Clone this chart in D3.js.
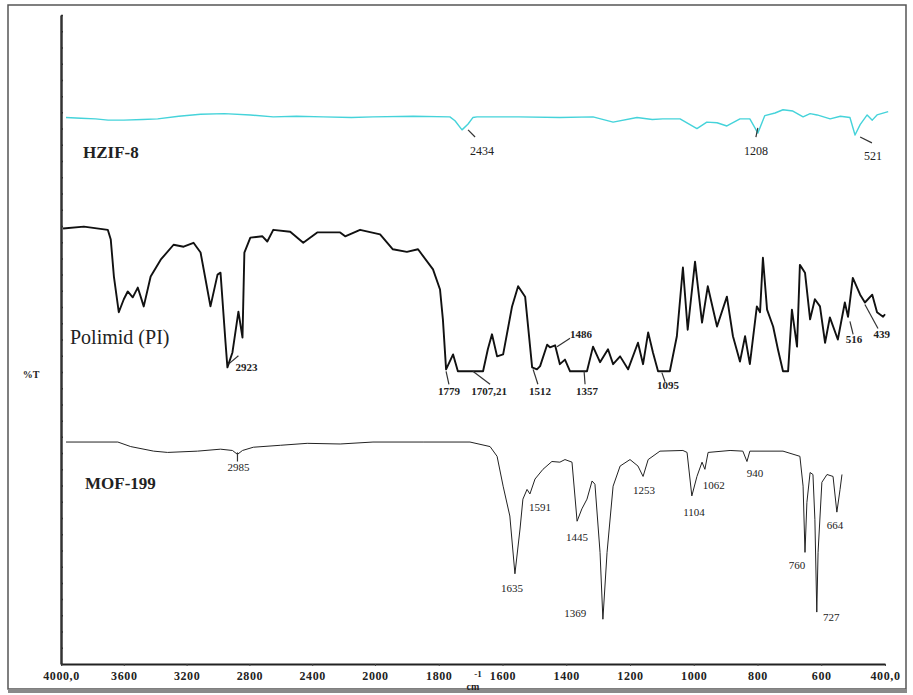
<!DOCTYPE html>
<html>
<head>
<meta charset="utf-8">
<script src="https://cdn.jsdelivr.net/npm/d3@7/dist/d3.min.js"></script>
<style>
  body { margin: 0; background: #fff; }
  svg text { font-family: "Liberation Serif", "Times New Roman", serif; fill: #222; }
</style>
</head>
<body>
<script>
var width = 913,
    height = 695;

// x tick labels (wavenumber, cm-1)
var xTicks = [4000, 3600, 3200, 2800, 2400, 2000, 1800, 1600, 1400, 1200, 1000, 800, 600, 400];

// HZIF-8 spectrum [wavenumber, %T offset]
var hzifWn = [3968, 3873, 3780, 3700, 3600, 3480, 3384, 3250, 3111, 2960, 2794, 2648, 2500, 2330, 2150, 2013, 1880, 1765, 1749, 1727, 1708, 1693, 1680, 1550, 1420, 1316, 1253, 1178, 1130, 1097, 1043, 990, 959, 927, 896, 855, 824, 808, 799, 777, 745, 720, 689, 657, 635, 613, 572, 540, 510, 494, 478, 456, 440, 425, 390];
var hzifT  = [84.2, 84.1, 84.0, 83.8, 83.8, 83.9, 84.0, 84.4, 84.7, 84.8, 84.6, 84.3, 84.4, 84.3, 84.2, 84.3, 84.4, 84.3, 83.7, 82.3, 83.2, 84.2, 84.3, 84.3, 84.2, 84.3, 83.5, 84.2, 83.9, 84.0, 84.0, 82.5, 83.5, 83.4, 82.9, 84.0, 84.0, 82.6, 81.8, 84.5, 84.9, 85.4, 85.2, 84.3, 84.8, 84.6, 84.0, 84.4, 84.2, 81.5, 83.1, 84.6, 83.8, 84.6, 85.1];

// Polimid (PI) spectrum
var piWn = [3987, 3854, 3702, 3683, 3663, 3632, 3600, 3575, 3543, 3511, 3473, 3429, 3365, 3283, 3219, 3156, 3111, 3079, 3048, 3003, 2984, 2952, 2940, 2908, 2870, 2844, 2832, 2794, 2717, 2686, 2648, 2540, 2457, 2368, 2222, 2190, 2095, 1984, 1944, 1900, 1865, 1818, 1796, 1787, 1777, 1755, 1740, 1661, 1646, 1633, 1617, 1598, 1570, 1551, 1529, 1507, 1492, 1482, 1460, 1451, 1435, 1420, 1404, 1388, 1335, 1316, 1294, 1269, 1253, 1231, 1206, 1175, 1159, 1143, 1128, 1112, 1075, 1053, 1034, 1019, 996, 974, 956, 927, 896, 877, 855, 839, 824, 802, 792, 783, 770, 751, 736, 720, 704, 692, 676, 667, 651, 635, 620, 604, 588, 573, 548, 526, 516, 501, 478, 463, 440, 425, 406, 400];
var piT  = [67.1, 67.4, 66.9, 65.4, 59.7, 54.2, 56.2, 57.4, 56.5, 58.0, 55.1, 59.7, 62.3, 64.6, 64.3, 64.9, 63.4, 59.2, 55.1, 60.0, 60.3, 49.5, 45.7, 48.0, 54.3, 50.3, 63.4, 65.7, 65.9, 65.1, 66.9, 66.6, 64.9, 66.5, 66.5, 65.9, 66.9, 66.2, 63.9, 63.5, 63.9, 60.8, 57.7, 53.1, 45.4, 47.7, 45.1, 45.1, 48.5, 50.8, 47.4, 47.7, 55.1, 58.2, 56.6, 45.7, 45.4, 45.9, 49.2, 48.8, 49.1, 46.2, 46.9, 45.1, 45.1, 48.9, 46.5, 48.5, 46.2, 47.4, 45.4, 49.5, 46.2, 51.1, 48.0, 45.1, 45.1, 50.5, 61.1, 51.5, 62.0, 52.6, 58.2, 52.0, 56.6, 50.5, 46.6, 50.5, 46.2, 55.1, 54.2, 62.6, 54.6, 52.0, 48.5, 45.1, 45.1, 54.6, 48.9, 61.5, 60.3, 53.1, 56.2, 55.1, 49.5, 53.4, 50.0, 55.7, 53.5, 59.5, 56.9, 55.7, 56.9, 54.2, 53.5, 53.9];

// MOF-199 spectrum
var mofWn = [3968, 3638, 3556, 3410, 3321, 3130, 2984, 2908, 2876, 2844, 2775, 2603, 2432, 2222, 2013, 1849, 1702, 1639, 1617, 1598, 1577, 1561, 1545, 1536, 1523, 1514, 1498, 1473, 1445, 1420, 1404, 1382, 1366, 1351, 1335, 1319, 1310, 1294, 1285, 1272, 1253, 1231, 1200, 1175, 1159, 1143, 1106, 1034, 1021, 1006, 990, 974, 965, 955, 886, 846, 833, 824, 720, 667, 657, 651, 645, 635, 626, 620, 614, 610, 598, 582, 563, 551, 541, 535];
var mofT  = [34.2, 34.2, 33.5, 32.8, 32.6, 32.8, 33.1, 32.9, 32.3, 32.9, 33.4, 33.7, 34.0, 33.9, 34.2, 34.2, 34.2, 33.5, 32.0, 27.4, 22.8, 13.9, 20.8, 25.4, 26.9, 26.2, 28.5, 30.0, 31.2, 31.1, 31.5, 31.1, 22.0, 23.9, 25.4, 28.2, 27.7, 17.2, 6.9, 17.2, 27.4, 30.5, 31.5, 30.5, 28.9, 31.5, 32.8, 32.9, 32.6, 25.9, 28.9, 31.1, 30.0, 32.6, 32.9, 32.8, 31.2, 32.8, 32.8, 32.0, 27.4, 17.2, 24.9, 29.5, 29.2, 22.3, 8.0, 17.2, 28.0, 29.2, 28.9, 23.4, 26.9, 29.2];

// peak labels: text, wavenumber, %T (baseline)
var hzifPeaks = [["2434", 1664, 78.5], ["1208", 805, 78.5], ["521", 438, 77.7]];
var piPeaks = [["2923", 2819, 45.1], ["1779", 1768, 41.5], ["1707,21", 1642, 41.5], ["1512", 1482, 41.5],
               ["1486", 1354, 50.3], ["1357", 1335, 41.5], ["1095", 1081, 42.3], ["516", 497, 49.5], ["439", 410, 50.3]];
var mofPeaks = [["2985", 2870, 29.7], ["1635", 1570, 11.1], ["1591", 1482, 23.5], ["1445", 1366, 18.9],
                ["1369", 1372, 7.2], ["1253", 1156, 26.2], ["1104", 999, 22.8], ["1062", 937, 26.9],
                ["940", 808, 28.8], ["760", 676, 14.6], ["727", 569, 6.6], ["664", 557, 20.8]];

// leader lines: wn1, T1, wn2, T2
var leaders = [[1708, 82.3, 1686, 81.2], [799, 82.6, 805, 81.2], [478, 81.2, 441, 80.3],
               [2933, 46.2, 2870, 47.5], [1777, 45.1, 1768, 43.1], [1693, 45.1, 1639, 43.1],
               [1504, 45.4, 1489, 43.1], [1344, 45.1, 1341, 43.1], [1429, 48.9, 1388, 50.2],
               [1100, 44.9, 1090, 43.5], [510, 52.8, 500, 50.8], [463, 55.4, 422, 51.7],
               [2876, 32.6, 2876, 31.2]];

var series = [
    {name: "HZIF-8", wn: hzifWn, t: hzifT, color: "#45d3da", lw: 1.4},
    {name: "Polimid (PI)", wn: piWn, t: piT, color: "#111", lw: 1.9},
    {name: "MOF-199", wn: mofWn, t: mofT, color: "#222", lw: 1.0}
];

var svg = d3.select("body").append("svg")
    .attr("width", width)
    .attr("height", height);

// frame
svg.append("rect")
    .attr("x", 8).attr("y", 5)
    .attr("width", 898).attr("height", 684)
    .attr("fill", "none")
    .attr("stroke", "#555")
    .attr("stroke-width", 1.5);
svg.append("rect")
    .attr("x", 8).attr("y", 689)
    .attr("width", 899).attr("height", 4)
    .attr("fill", "#8a8a8a");

// scales: expanded below 2000 cm-1
var x = d3.scaleLinear().domain([4000, 2000, 400]).range([61, 375, 885]),
    y = d3.scaleLinear().domain([0, 100]).range([664, 15]);

// axes
var xAxis = svg.append("g")
    .attr("transform", "translate(0,664)")
    .call(d3.axisBottom(x).tickValues(xTicks).tickSize(2).tickSizeOuter(0)
        .tickFormat(function(d) { return (d === 4000 || d === 400) ? d + ",0" : d; }));
xAxis.select(".domain").attr("stroke", "#222").attr("stroke-width", 2);
xAxis.selectAll(".tick line").attr("stroke", "#444");
xAxis.selectAll(".tick text")
    .attr("y", 7)
    .style("font-family", "'Liberation Serif', serif")
    .style("font-size", "12px")
    .style("font-weight", "bold")
    .style("letter-spacing", "0.6px")
    .attr("fill", "#222");

var yAxis = svg.append("g")
    .attr("transform", "translate(61,0)")
    .call(d3.axisRight(y).tickValues(d3.range(0, 100.1, 2.5)).tickSize(2).tickSizeOuter(0).tickFormat(""));
yAxis.select(".domain").attr("stroke", "#333").attr("stroke-width", 2.5);
yAxis.selectAll(".tick line").attr("stroke", "#333").attr("stroke-width", 1.5);

svg.append("text")
    .attr("x", 31).attr("y", 378)
    .attr("text-anchor", "middle")
    .style("font-size", "10px")
    .style("font-weight", "bold")
    .text("%T");

svg.append("text")
    .attr("x", 473).attr("y", 690)
    .attr("text-anchor", "middle")
    .style("font-size", "10px")
    .style("font-weight", "bold")
    .text("cm");
svg.append("text")
    .attr("x", 478).attr("y", 677)
    .attr("text-anchor", "middle")
    .style("font-size", "9px")
    .style("font-weight", "bold")
    .text("-1");

// spectra
var line = d3.line()
    .x(function(d) { return x(d[0]); })
    .y(function(d) { return y(d[1]); });

series.forEach(function(s) {
    svg.append("path")
        .datum(d3.zip(s.wn, s.t))
        .attr("fill", "none")
        .attr("stroke", s.color)
        .attr("stroke-width", s.lw)
        .attr("stroke-linejoin", "round")
        .attr("d", line);
});

// series names
svg.append("text").attr("x", 83).attr("y", 158)
    .style("font-size", "17px").style("font-weight", "bold").attr("fill", "#1a1a1a").text("HZIF-8");
svg.append("text").attr("x", 70).attr("y", 344)
    .style("font-size", "20px").attr("fill", "#444").text("Polimid (PI)");
svg.append("text").attr("x", 85).attr("y", 489)
    .style("font-size", "17px").style("font-weight", "bold").attr("fill", "#1a1a1a").text("MOF-199");

// leader lines
svg.append("g").selectAll("line")
    .data(leaders)
    .join("line")
    .attr("x1", function(d) { return x(d[0]); })
    .attr("y1", function(d) { return y(d[1]); })
    .attr("x2", function(d) { return x(d[2]); })
    .attr("y2", function(d) { return y(d[3]); })
    .attr("stroke", "#333")
    .attr("stroke-width", 1.2);

// peak labels
function peakLabels(data, size, weight) {
    svg.append("g").selectAll("text")
        .data(data)
        .join("text")
        .attr("x", function(d) { return x(d[1]); })
        .attr("y", function(d) { return y(d[2]); })
        .attr("text-anchor", "middle")
        .style("font-size", size)
        .style("font-weight", weight)
        .attr("fill", "#333")
        .text(function(d) { return d[0]; });
}
peakLabels(hzifPeaks, "12px", "normal");
peakLabels(piPeaks, "11px", "bold");
peakLabels(mofPeaks, "11px", "normal");
</script>
</body>
</html>
